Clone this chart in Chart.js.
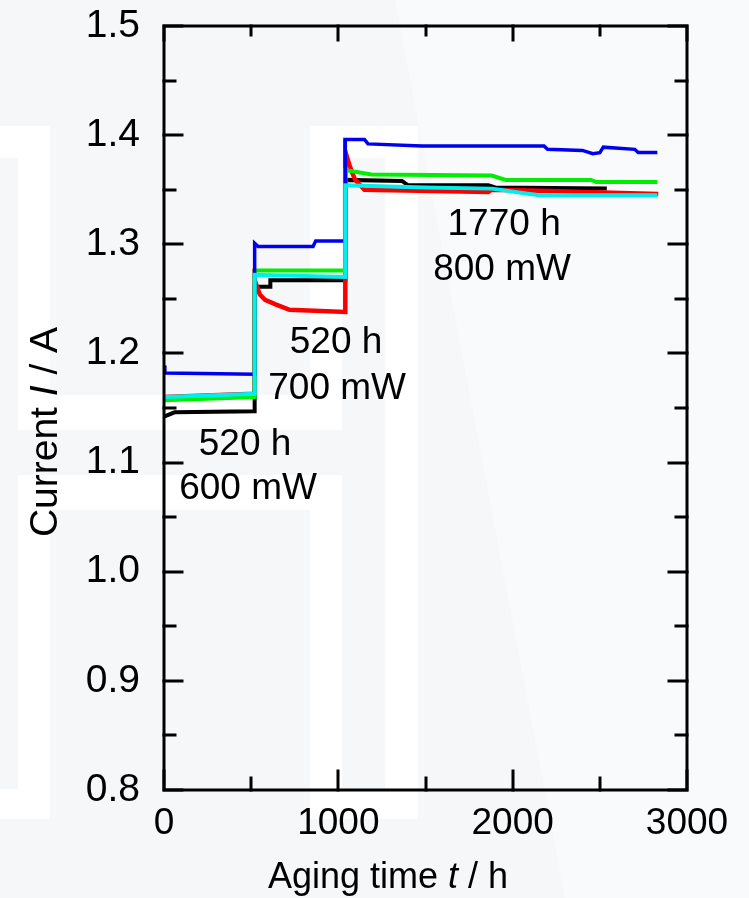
<!DOCTYPE html>
<html>
<head>
<meta charset="utf-8">
<script src="https://cdn.jsdelivr.net/npm/chart.js@4"></script>
<style>
  body { margin: 0; background: #f6f7f9; }
  #wrap { width: 749px; height: 898px; position: relative; }
</style>
</head>
<body>
<div id="wrap"><canvas id="aging-chart"></canvas></div>
<script>
// aging time t (h) and current I (A)
const cyanTime = [0, 520, 520, 1040, 1040, 1500, 1880, 2150, 2830];
const cyanCurrent = [1.160, 1.163, 1.272, 1.270, 1.354, 1.352, 1.351, 1.345, 1.345];

const blueTime = [0, 5, 520, 520, 540, 855, 870, 1040, 1040, 1150, 1170, 1480, 2180, 2200, 2400, 2460, 2500, 2520, 2700, 2720, 2830];
const blueCurrent = [1.189, 1.182, 1.181, 1.301, 1.298, 1.298, 1.303, 1.303, 1.396, 1.396, 1.392, 1.390, 1.390, 1.387, 1.386, 1.383, 1.384, 1.389, 1.387, 1.384, 1.384];

const greenTime = [0, 520, 520, 1040, 1040, 1190, 1880, 1960, 2450, 2480, 2830];
const greenCurrent = [1.157, 1.160, 1.276, 1.276, 1.368, 1.364, 1.363, 1.359, 1.359, 1.357, 1.357];

const redTime = [0, 520, 520, 550, 580, 640, 720, 1040, 1040, 1067, 1096, 1150, 1860, 1880, 2150, 2835];
const redCurrent = [1.160, 1.163, 1.267, 1.254, 1.249, 1.245, 1.240, 1.238, 1.385, 1.371, 1.359, 1.350, 1.348, 1.350, 1.349, 1.346];

const blackTime = [0, 60, 520, 520, 610, 610, 1040, 1040, 1365, 1400, 1860, 1900, 2540];
const blackCurrent = [1.142, 1.146, 1.147, 1.261, 1.261, 1.267, 1.267, 1.359, 1.358, 1.354, 1.354, 1.352, 1.351];

const xTicks = [0, 1000, 2000, 3000];
const yTicks = [0.8, 0.9, 1.0, 1.1, 1.2, 1.3, 1.4, 1.5];

// stage labels: [text, t, I]
const notes = [
    ['520 h', 465, 1.116], ['600 mW', 482, 1.076],
    ['520 h', 987, 1.210], ['700 mW', 993, 1.168],
    ['1770 h', 1951, 1.318], ['800 mW', 1939, 1.277]
];

function pts(ts, vs) {
    return ts.map((t, i) => ({ x: t, y: vs[i] }));
}

function series(label, ts, vs, color, width) {
    return {
        label: label,
        data: pts(ts, vs),
        borderColor: color,
        backgroundColor: color,
        borderWidth: width,
        pointRadius: 0,
        tension: 0,
        fill: false
    };
}

const FONT = 'Liberation Sans, Arial, sans-serif';

const backdrop = {
    id: 'backdrop',
    beforeDraw(chart) {
        const c = chart.ctx;
        c.save();
        c.fillStyle = '#f6f7f9';
        c.fillRect(0, 0, chart.width, chart.height);
        c.fillStyle = '#f9fafb';
        c.beginPath();
        c.moveTo(395, 0); c.lineTo(749, 0); c.lineTo(749, 898); c.lineTo(565, 898);
        c.fill();
        c.fillStyle = '#ffffff';
        c.fillRect(0, 126, 50, 693);
        c.fillRect(310, 126, 108, 693);
        c.fillRect(50, 395, 260, 115);
        c.fillStyle = '#f6f7f9';
        c.fillRect(0, 158, 18, 631);
        c.fillRect(342, 158, 43, 631);
        c.fillRect(18, 430, 324, 45);
        c.restore();
    }
};

const frame = {
    id: 'frame',
    afterDatasetsDraw(chart) {
        const c = chart.ctx;
        const a = chart.chartArea;
        const xs = chart.scales.x, ys = chart.scales.y;
        c.save();
        c.strokeStyle = '#000';
        c.lineWidth = 3;
        c.lineCap = 'square';
        c.strokeRect(a.left, a.top, a.right - a.left, a.bottom - a.top);
        c.beginPath();
        for (let k = 0; k <= 14; k++) {
            const v = 0.8 + k * 0.05;
            const y = Math.round(ys.getPixelForValue(v));
            const len = k % 2 === 0 ? 18 : 11;
            c.moveTo(a.left, y); c.lineTo(a.left + len, y);
            c.moveTo(a.right, y); c.lineTo(a.right - len, y);
        }
        for (let k = 0; k <= 6; k++) {
            const x = Math.round(xs.getPixelForValue(k * 500));
            const len = k % 2 === 0 ? 19 : 12;
            c.moveTo(x, a.bottom); c.lineTo(x, a.bottom - len);
            c.moveTo(x, a.top); c.lineTo(x, a.top + (k % 2 === 0 ? 14 : 9));
        }
        c.stroke();

        c.fillStyle = '#000';
        c.font = '37px ' + FONT;
        c.textAlign = 'center';
        c.textBaseline = 'middle';
        notes.forEach(n => {
            c.fillText(n[0], xs.getPixelForValue(n[1]), ys.getPixelForValue(n[2]));
        });
        c.restore();
    }
};

function drawMixed(c, parts, cx, cy) {
    let total = 0;
    parts.forEach(p => { c.font = p[1]; total += c.measureText(p[0]).width; });
    let x = cx - total / 2;
    c.textAlign = 'left';
    parts.forEach(p => {
        c.font = p[1];
        c.fillText(p[0], x, cy);
        x += c.measureText(p[0]).width;
    });
}

const titles = {
    id: 'titles',
    afterDraw(chart) {
        const c = chart.ctx;
        c.save();
        c.fillStyle = '#000';
        c.textBaseline = 'alphabetic';
        drawMixed(c, [
            ['Aging time ', '36px ' + FONT],
            ['t', 'italic 36px ' + FONT],
            [' / h', '36px ' + FONT]
        ], 388, 888);
        c.translate(57, 432);
        c.rotate(-Math.PI / 2);
        drawMixed(c, [
            ['Current ', '39px ' + FONT],
            ['I', 'italic 39px ' + FONT],
            [' / A', '39px ' + FONT]
        ], 0, 0);
        c.restore();
    }
};

const ctx = document.getElementById('aging-chart').getContext('2d');
const agingChart = new Chart(ctx, {
    type: 'line',
    data: {
        datasets: [
            series('cyan', cyanTime, cyanCurrent, 'rgb(0, 238, 238)', 4),
            series('blue', blueTime, blueCurrent, 'rgb(0, 0, 240)', 3.5),
            series('green', greenTime, greenCurrent, 'rgb(0, 238, 0)', 4),
            series('red', redTime, redCurrent, 'rgb(250, 0, 0)', 4.5),
            series('black', blackTime, blackCurrent, 'rgb(0, 0, 0)', 4)
        ]
    },
    options: {
        responsive: true,
        maintainAspectRatio: false,
        animation: false,
        layout: { padding: { top: 26, right: 62, left: 0, bottom: 0 } },
        plugins: {
            legend: { display: false },
            tooltip: { enabled: false }
        },
        scales: {
            x: {
                type: 'linear',
                min: 0,
                max: 3000,
                afterFit: s => { s.height = 108; s.paddingLeft = 0; s.paddingRight = 0; },
                afterBuildTicks: s => { s.ticks = xTicks.map(v => ({ value: v })); },
                grid: { display: false, drawTicks: false },
                border: { display: false },
                ticks: {
                    color: '#000',
                    padding: 12,
                    maxRotation: 0,
                    font: { family: FONT, size: 37 },
                    callback: v => String(v)
                }
            },
            y: {
                type: 'linear',
                min: 0.8,
                max: 1.5,
                afterFit: s => { s.width = 164; s.paddingTop = 0; s.paddingBottom = 0; },
                afterBuildTicks: s => { s.ticks = yTicks.map(v => ({ value: v })); },
                grid: { display: false, drawTicks: false },
                border: { display: false },
                ticks: {
                    color: '#000',
                    padding: 24,
                    font: { family: FONT, size: 39 },
                    callback: v => Number(v).toFixed(1)
                }
            }
        }
    },
    plugins: [backdrop, frame, titles]
});
</script>
</body>
</html>
